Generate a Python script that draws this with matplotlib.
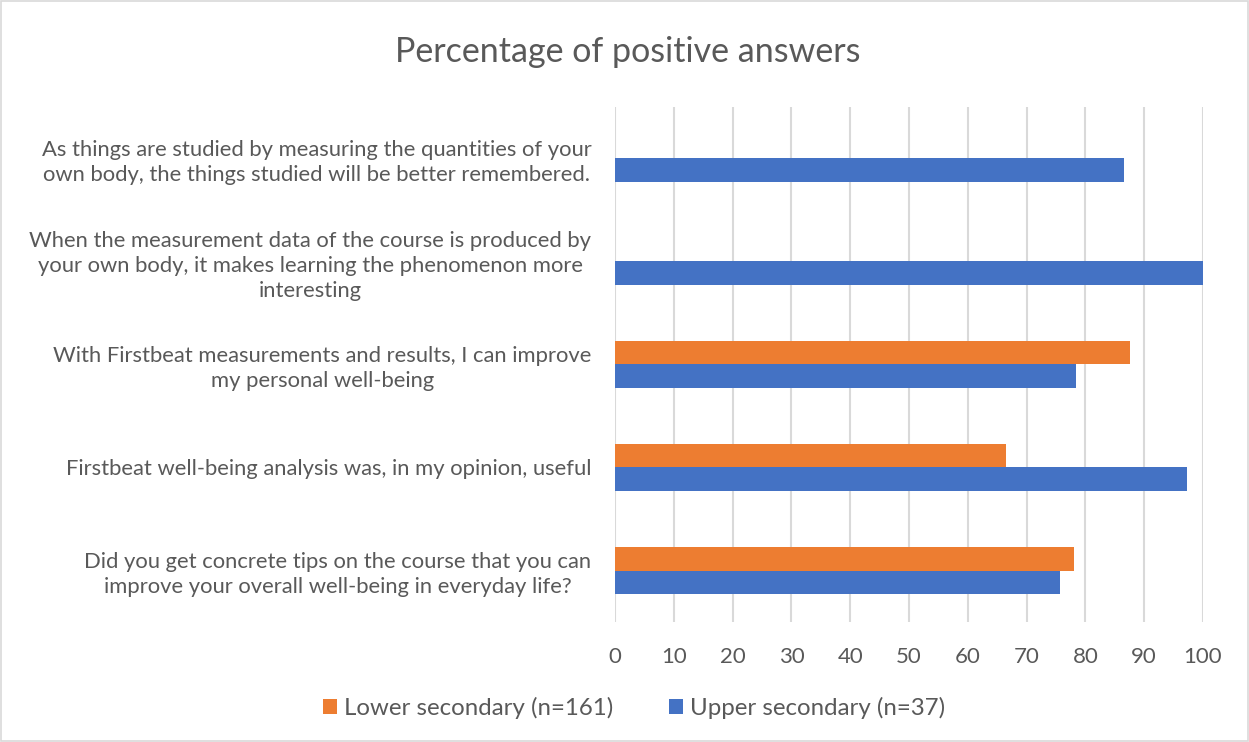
import matplotlib
matplotlib.use("Agg")
import matplotlib.pyplot as plt
import numpy as np
from matplotlib.patches import Rectangle

categories = [
    "Did you get concrete tips on the course that you can\nimprove your overall well-being in everyday life?",
    "Firstbeat well-being analysis was, in my opinion, useful",
    "With Firstbeat measurements and results, I can improve\nmy personal well-being",
    "When the measurement data of the course is produced by\nyour own body, it makes learning the phenomenon more\ninteresting",
    "As things are studied by measuring the quantities of your\nown body, the things studied will be better remembered.",
]
lower = [78.0, 66.5, 87.5, 0, 0]
upper = [75.7, 97.3, 78.4, 100.0, 86.5]
series_names = ["Lower secondary (n=161)", "Upper secondary (n=37)"]
xticks = [0, 10, 20, 30, 40, 50, 60, 70, 80, 90, 100]

plt.rcParams['font.family'] = ['Lato', 'DejaVu Sans']
text_color = "#595959"

fig = plt.figure(figsize=(12.49, 7.42), dpi=100)
ax = fig.add_axes([615/1249, 1-622/742, 588/1249, 515/742])

y = np.arange(len(categories))
h = 0.233
ax.barh(y + h/2, lower, height=h, color="#ED7D31", label=series_names[0], zorder=3)
ax.barh(y - h/2, upper, height=h, color="#4472C4", label=series_names[1], zorder=3)

ax.set_xlim(0, 100)
ax.set_ylim(-0.5, len(categories) - 0.5)
ax.set_xticks(xticks)
ax.set_xticklabels([str(v) for v in xticks], fontsize=16, color=text_color)
ax.set_yticks(y)
ax.set_yticklabels(categories, fontsize=15.8, color=text_color, multialignment='center',
                   linespacing=1.3)
ax.tick_params(axis='both', length=0)
ax.tick_params(axis='x', pad=18)
ax.tick_params(axis='y', pad=17)
ax.grid(axis='x', color="#d9d9d9", linewidth=1.5, zorder=0)
for s in ax.spines.values():
    s.set_visible(False)

fig.text(628/1249, 1-52/742, "Percentage of positive answers", ha='center', va='center',
         fontsize=24.5, color=text_color)

leg = fig.legend(loc='center', bbox_to_anchor=(634/1249, 1-708/742), ncol=2, frameon=False,
                 fontsize=17.3, handlelength=0.6, handleheight=0.6, handletextpad=0.3,
                 columnspacing=2.3)
for t in leg.get_texts():
    t.set_color(text_color)

fig.patches.append(Rectangle((0.001, 0.001), 0.998, 0.998, transform=fig.transFigure,
                             fill=False, edgecolor="#d9d9d9", linewidth=1.2))

fig.savefig("out.png", dpi=100, facecolor='white')
